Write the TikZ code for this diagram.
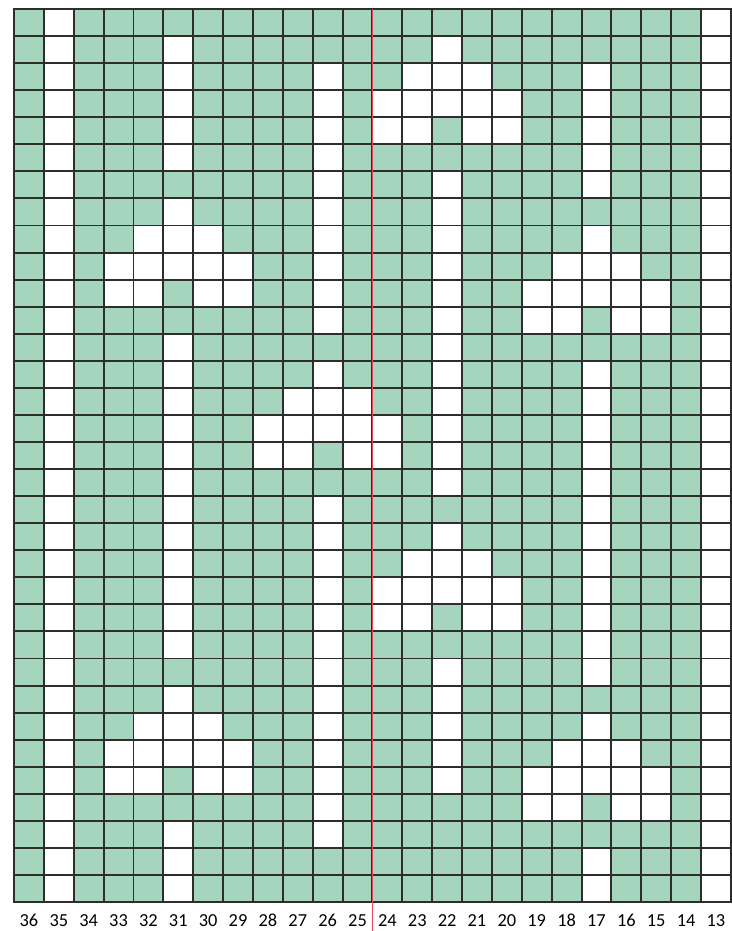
\documentclass[tikz,border=0pt]{standalone}
\usepackage{fontspec}
\setmainfont{Carlito}
\usepackage{tikz}
\definecolor{mint}{RGB}{166,213,190}
\definecolor{gridgray}{RGB}{45,45,45}
\definecolor{midred}{RGB}{232,70,92}

\begin{document}
\begin{tikzpicture}[x=0.8cm, y=-0.7248cm, line join=round, line cap=rect,
	font=\fontsize{14}{16}\selectfont,
	gridline/.style={draw=gridgray, line width=1.5pt},
	blank/.style={fill=white},
	midline/.style={draw=midred, line width=1.1pt, line cap=butt},
	colnum/.style={inner sep=0pt, anchor=base}]
	\useasboundingbox (-0.469,-0.333) rectangle (24.01,34.07);
	\fill[mint] (0,0) rectangle (24,33);
	% white stitches: row / columns
	\foreach \r/\cs in {1/{35,13}, 2/{35,31,22,13}, 3/{35,31,26,23,22,21,17,13},
		4/{35,31,26,24,23,22,21,20,17,13}, 5/{35,31,26,24,23,21,20,17,13},
		6/{35,31,26,17,13}, 7/{35,26,22,17,13}, 8/{35,31,26,22,13},
		9/{35,32,31,30,26,22,17,13}, 10/{35,33,32,31,30,29,26,22,18,17,16,13},
		11/{35,33,32,30,29,26,22,19,18,17,16,15,13}, 12/{35,26,22,19,18,16,15,13},
		13/{35,31,22,13}, 14/{35,31,26,22,17,13}, 15/{35,31,27,26,25,22,17,13},
		16/{35,31,28,27,26,25,24,22,17,13}, 17/{35,31,28,27,25,24,22,17,13},
		18/{35,31,22,17,13}, 19/{35,31,26,17,13}, 20/{35,31,26,22,17,13},
		21/{35,31,26,23,22,21,17,13}, 22/{35,31,26,24,23,22,21,20,17,13},
		23/{35,31,26,24,23,21,20,17,13}, 24/{35,31,26,17,13}, 25/{35,26,22,17,13},
		26/{35,31,26,22,13}, 27/{35,32,31,30,26,22,17,13},
		28/{35,33,32,31,30,29,26,22,18,17,16,13},
		29/{35,33,32,30,29,26,22,19,18,17,16,15,13}, 30/{35,26,19,18,16,15,13},
		31/{35,31,26,13}, 32/{35,31,17,13}, 33/{35,31,17,13}}
		\foreach \c in \cs
			\fill[blank] (36-\c,\r-1) rectangle (37-\c,\r);
	% grid
	\foreach \i in {0,...,24}
		\draw[gridline] (\i,0) -- (\i,33);
	\foreach \j in {0,...,33}
		\draw[gridline] (0,\j) -- (24,\j);
	% centre line
	\coordinate (M1) at (12,0);
	\coordinate (M2) at (12,34.07);
	\draw[midline] (M1) -- (M2);
	% column numbers
	\foreach \c in {36,35,...,13}
		\node[colnum] (n\c) at (36.5-\c,33.92) {\c};
\end{tikzpicture}
\end{document}
